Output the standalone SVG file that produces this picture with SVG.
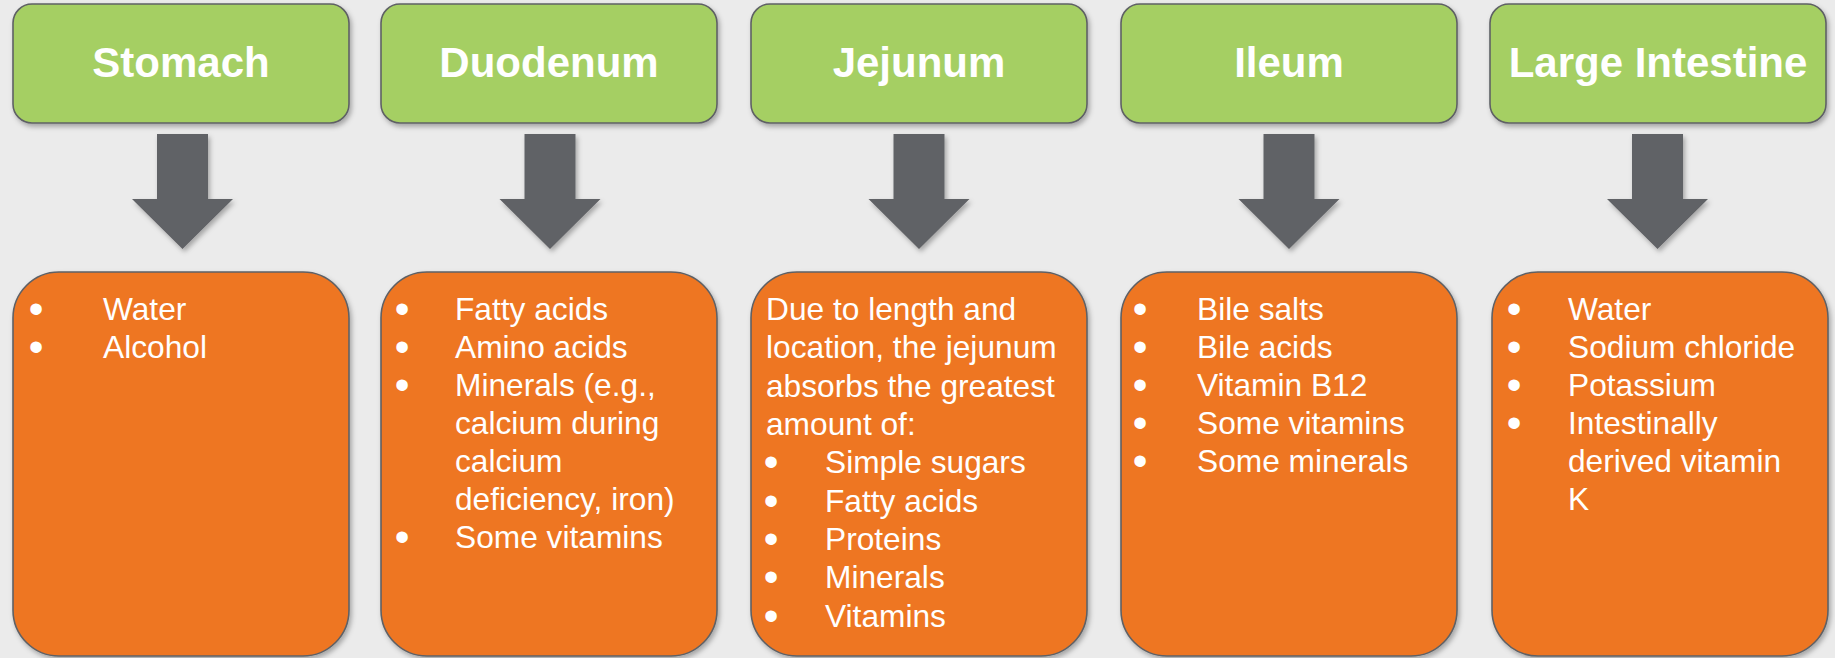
<svg xmlns="http://www.w3.org/2000/svg" width="1835" height="658" viewBox="0 0 1835 658">
<defs>
<filter id="sh" x="-10%" y="-10%" width="125%" height="125%">
<feDropShadow dx="2" dy="3" stdDeviation="2.5" flood-color="#000" flood-opacity="0.3"/>
</filter>
<style>
.hd{fill:#a5cf63;stroke:#5f6165;stroke-width:1.6;filter:url(#sh)}
.bd{fill:#ee7623;stroke:#5f6165;stroke-width:1.6;filter:url(#sh)}
.ar{fill:#616266;filter:url(#sh)}
.ht{font-family:"Liberation Sans",Arial,sans-serif;font-weight:bold;font-size:42px;fill:#fff;text-anchor:middle}
.bt{font-family:"Liberation Sans",Arial,sans-serif;font-size:31.7px;fill:#fff}
.b{font-size:42px;text-anchor:middle}
</style>
</defs>
<rect width="1835" height="658" fill="#ebebeb"/>

<g id="connectors">
<path class="ar" d="M157,134H208V199H233L182.5,249L132,199H157Z"/>
<path class="ar" d="M524.5,134H575.5V199H600.5L550,249L499.5,199H524.5Z"/>
<path class="ar" d="M893.5,134H944.5V199H969.5L919,249L868.5,199H893.5Z"/>
<path class="ar" d="M1263.5,134H1314.5V199H1339.5L1289,249L1238.5,199H1263.5Z"/>
<path class="ar" d="M1632,134H1683V199H1708L1657.5,249L1607,199H1632Z"/>
</g>

<g id="stomach">
<rect class="hd" x="13" y="4" width="336" height="119" rx="19"/>
<text class="ht" x="181" y="77">Stomach</text>
</g>
<g id="duodenum">
<rect class="hd" x="381" y="4" width="336" height="119" rx="19"/>
<text class="ht" x="549" y="77">Duodenum</text>
</g>
<g id="jejunum">
<rect class="hd" x="751" y="4" width="336" height="119" rx="19"/>
<text class="ht" x="919" y="77">Jejunum</text>
</g>
<g id="ileum">
<rect class="hd" x="1121" y="4" width="336" height="119" rx="19"/>
<text class="ht" x="1289" y="77">Ileum</text>
</g>
<g id="large-intestine">
<rect class="hd" x="1490" y="4" width="336" height="119" rx="19"/>
<text class="ht" x="1658" y="77">Large Intestine</text>
</g>

<g id="stomach-abs">
<rect class="bd" x="13" y="272" width="336" height="384" rx="46"/>
<text class="bt"><tspan class="b" x="36" y="323">•</tspan><tspan x="103" y="320">Water</tspan><tspan class="b" x="36" y="361">•</tspan><tspan x="103" y="358">Alcohol</tspan></text>
</g>
<g id="duodenum-abs">
<rect class="bd" x="381" y="272" width="336" height="384" rx="46"/>
<text class="bt">
<tspan class="b" x="402" y="323">•</tspan><tspan x="455" y="320">Fatty acids</tspan>
<tspan class="b" x="402" y="361">•</tspan><tspan x="455" y="358">Amino acids</tspan>
<tspan class="b" x="402" y="399">•</tspan><tspan x="455" y="396">Minerals (e.g.,</tspan>
<tspan x="455" y="434">calcium during</tspan>
<tspan x="455" y="472">calcium</tspan>
<tspan x="455" y="510">deficiency, iron)</tspan>
<tspan class="b" x="402" y="551">•</tspan><tspan x="455" y="548">Some vitamins</tspan>
</text>
</g>
<g id="jejunum-abs">
<rect class="bd" x="751" y="272" width="336" height="384" rx="46"/>
<text class="bt">
<tspan x="766" y="320">Due to length and</tspan>
<tspan x="766" y="358">location, the jejunum</tspan>
<tspan x="766" y="397">absorbs the greatest</tspan>
<tspan x="766" y="435">amount of:</tspan>
<tspan class="b" x="771" y="476">•</tspan><tspan x="825" y="473">Simple sugars</tspan>
<tspan class="b" x="771" y="515">•</tspan><tspan x="825" y="512">Fatty acids</tspan>
<tspan class="b" x="771" y="553">•</tspan><tspan x="825" y="550">Proteins</tspan>
<tspan class="b" x="771" y="591">•</tspan><tspan x="825" y="588">Minerals</tspan>
<tspan class="b" x="771" y="630">•</tspan><tspan x="825" y="627">Vitamins</tspan>
</text>
</g>
<g id="ileum-abs">
<rect class="bd" x="1121" y="272" width="336" height="384" rx="46"/>
<text class="bt">
<tspan class="b" x="1140" y="323">•</tspan><tspan x="1197" y="320">Bile salts</tspan>
<tspan class="b" x="1140" y="361">•</tspan><tspan x="1197" y="358">Bile acids</tspan>
<tspan class="b" x="1140" y="399">•</tspan><tspan x="1197" y="396">Vitamin B12</tspan>
<tspan class="b" x="1140" y="437">•</tspan><tspan x="1197" y="434">Some vitamins</tspan>
<tspan class="b" x="1140" y="475">•</tspan><tspan x="1197" y="472">Some minerals</tspan>
</text>
</g>
<g id="large-intestine-abs">
<rect class="bd" x="1492" y="272" width="336" height="384" rx="46"/>
<text class="bt">
<tspan class="b" x="1514" y="323">•</tspan><tspan x="1568" y="320">Water</tspan>
<tspan class="b" x="1514" y="361">•</tspan><tspan x="1568" y="358">Sodium chloride</tspan>
<tspan class="b" x="1514" y="399">•</tspan><tspan x="1568" y="396">Potassium</tspan>
<tspan class="b" x="1514" y="437">•</tspan><tspan x="1568" y="434">Intestinally</tspan>
<tspan x="1568" y="472">derived vitamin</tspan>
<tspan x="1568" y="510">K</tspan>
</text>
</g>
</svg>
